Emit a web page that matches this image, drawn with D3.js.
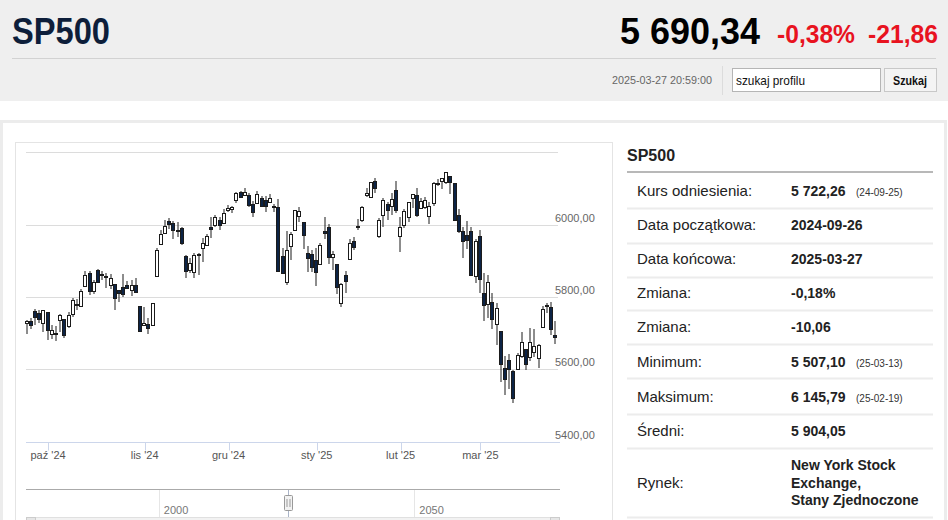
<!DOCTYPE html>
<html>
<head>
<meta charset="utf-8">
<title>SP500</title>
<script src="https://cdn.jsdelivr.net/npm/d3@7/dist/d3.min.js"></script>
<style>
body{ margin:0; background:#fff; }
svg{ display:block; }
.narrow{ font-family:"Liberation Sans",Arial,sans-serif; }
.sans{ font-family:"Liberation Sans",Arial,sans-serif; }
</style>
</head>
<body>
<svg id="page" width="948" height="520"></svg>
<script>
// --- dane ---
var symbol = "SP500";
var lastQuote = "5 690,34";
var changePct = "-0,38%";
var changeAbs = "-21,86";
var quoteTime = "2025-03-27 20:59:00";

var dates = [
  "2024-09-24","2024-09-25","2024-09-26","2024-09-27","2024-09-30",
  "2024-10-01","2024-10-02","2024-10-03","2024-10-04","2024-10-07","2024-10-08","2024-10-09","2024-10-10","2024-10-11",
  "2024-10-14","2024-10-15","2024-10-16","2024-10-17","2024-10-18","2024-10-21","2024-10-22","2024-10-23","2024-10-24",
  "2024-10-25","2024-10-28","2024-10-29","2024-10-30","2024-10-31",
  "2024-11-01","2024-11-04","2024-11-05","2024-11-06","2024-11-07","2024-11-08","2024-11-11","2024-11-12","2024-11-13",
  "2024-11-14","2024-11-15","2024-11-18","2024-11-19","2024-11-20","2024-11-21","2024-11-22","2024-11-25","2024-11-26",
  "2024-11-27","2024-11-29",
  "2024-12-02","2024-12-03","2024-12-04","2024-12-05","2024-12-06","2024-12-09","2024-12-10","2024-12-11","2024-12-12",
  "2024-12-13","2024-12-16","2024-12-17","2024-12-18","2024-12-19","2024-12-20","2024-12-23","2024-12-24","2024-12-26",
  "2024-12-27","2024-12-30","2024-12-31",
  "2025-01-02","2025-01-03","2025-01-06","2025-01-07","2025-01-08","2025-01-10","2025-01-13","2025-01-14","2025-01-15",
  "2025-01-16","2025-01-17","2025-01-21","2025-01-22","2025-01-23","2025-01-24","2025-01-27","2025-01-28","2025-01-29",
  "2025-01-30","2025-01-31",
  "2025-02-03","2025-02-04","2025-02-05","2025-02-06","2025-02-07","2025-02-10","2025-02-11","2025-02-12","2025-02-13",
  "2025-02-14","2025-02-18","2025-02-19","2025-02-20","2025-02-21","2025-02-24","2025-02-25","2025-02-26","2025-02-27",
  "2025-02-28",
  "2025-03-03","2025-03-04","2025-03-05","2025-03-06","2025-03-07","2025-03-10","2025-03-11","2025-03-12","2025-03-13",
  "2025-03-14","2025-03-17","2025-03-18","2025-03-19","2025-03-20","2025-03-21","2025-03-24","2025-03-25","2025-03-26",
  "2025-03-27"
];

var opens = [
  5727.6,5733.6,5762.2,5755.4,5726.5,
  5757.7,5698.2,5698.0,5737.2,5737.8,5719.1,5751.8,5778.4,5775.1,5829.8,5866.7,5816.6,5875.6,5859.4,5857.8,5832.7,5834.5,5817.8,5826.8,5833.9,5819.7,5832.7,5775.3,
  5723.2,5725.2,5722.4,5857.6,5947.2,5976.8,6008.9,6003.6,5985.8,5989.7,5912.8,5874.2,5870.0,5917.9,5934.6,5944.2,5992.3,6000.0,6014.1,6003.9,
  6040.1,6042.0,6069.4,6089.8,6081.4,6083.0,6057.6,6060.2,6074.3,6068.2,6063.8,6052.6,6047.7,5912.7,5842.0,5940.3,5984.7,6025.0,6006.2,5920.7,5919.7,
  5903.3,5891.1,5982.8,5993.3,5910.7,5890.0,5782.3,5859.5,5905.2,5955.6,5995.0,6014.1,6081.4,6076.3,6121.4,5969.0,6026.0,6057.7,6050.8,6096.8,
  5969.7,5998.1,6020.5,6072.2,6083.1,6046.4,6049.3,6025.1,6060.6,6115.5,6121.6,6117.8,6134.5,6114.1,6026.7,5982.7,5970.9,5981.9,5856.7,
  5968.3,5812.0,5781.4,5785.9,5726.0,5705.4,5603.7,5624.8,5594.5,5600.0,5635.6,5654.5,5632.4,5646.9,5630.7,5718.1,5775.9,5771.7,5695.6
];

var highs = [
  5735.3,5741.0,5767.4,5763.8,5765.1,
  5757.7,5722.4,5718.8,5753.4,5739.3,5757.6,5796.8,5795.0,5822.1,5871.4,5870.4,5846.5,5878.5,5872.2,5866.9,5863.0,5834.9,5817.8,5862.8,5842.9,5847.2,5850.9,5775.3,
  5772.5,5741.4,5783.4,5936.1,5983.8,6012.5,6017.3,6009.9,6008.2,5993.9,5915.5,5908.1,5920.7,5920.7,5963.9,5972.9,6020.8,6025.4,6020.2,6044.2,
  6053.6,6052.7,6089.8,6092.1,6100.0,6088.5,6065.4,6092.6,6079.7,6078.6,6085.2,6057.7,6070.7,5935.5,5982.1,5978.3,6040.1,6049.8,6006.2,5940.8,5929.7,
  5935.1,5949.3,6021.0,6000.7,5927.9,5890.0,5837.3,5871.9,5960.6,5964.7,6015.0,6051.5,6100.8,6118.7,6128.2,6017.2,6074.5,6062.8,6086.6,6120.9,
  6022.1,6042.5,6062.9,6084.0,6101.3,6073.4,6076.3,6063.2,6116.9,6127.5,6129.6,6145.8,6134.5,6114.8,6043.7,5992.6,6009.8,5993.7,5959.4,
  5986.1,5865.1,5860.6,5812.1,5783.0,5705.4,5636.3,5642.2,5597.8,5645.3,5703.5,5654.5,5715.3,5711.2,5670.8,5775.1,5783.8,5784.6,5732.3
];

var lows = [
  5698.0,5712.1,5721.0,5727.3,5703.5,
  5681.3,5683.2,5677.7,5702.8,5686.9,5714.6,5745.0,5764.8,5775.1,5829.8,5804.5,5808.3,5840.3,5846.1,5824.8,5821.2,5762.4,5784.9,5799.0,5823.1,5802.8,5811.3,5702.9,
  5723.2,5696.5,5722.1,5857.6,5947.2,5976.8,5986.7,5960.1,5965.9,5942.3,5853.0,5865.9,5853.6,5860.6,5896.0,5944.2,5963.9,5992.3,5984.9,6003.9,
  6035.3,6033.4,6061.1,6073.0,6080.0,6048.6,6021.0,6060.2,6051.3,6035.8,6059.1,6035.2,5867.8,5866.1,5832.3,5902.6,5981.4,6007.4,5933.0,5869.2,5868.9,
  5829.5,5888.7,5960.0,5890.7,5874.8,5809.2,5773.4,5811.4,5905.2,5930.3,5984.9,6006.9,6076.1,6074.7,6088.7,5962.9,5994.6,6013.0,6027.5,6030.9,
  5923.9,5990.9,6007.1,6046.8,6020.0,6044.8,6042.3,6003.0,6051.0,6107.6,6099.5,6111.2,6084.6,6008.6,5977.8,5908.5,5932.7,5858.8,5837.7,
  5810.9,5732.6,5742.4,5711.6,5666.3,5564.0,5528.4,5546.1,5507.1,5598.0,5631.1,5597.8,5622.2,5632.7,5603.1,5718.1,5755.1,5695.0,5670.9
];

var closes = [
  5732.9,5722.3,5745.4,5738.2,5762.5,
  5708.8,5709.5,5699.9,5751.1,5695.9,5751.1,5792.0,5780.1,5815.0,5859.9,5815.3,5842.5,5841.5,5864.7,5854.0,5851.2,5797.4,5809.9,5808.1,5823.5,5832.9,5813.7,5705.5,
  5728.8,5712.7,5782.8,5929.0,5973.1,5995.5,6001.4,5984.0,5985.4,5949.2,5870.6,5893.6,5917.0,5917.1,5948.7,5969.3,5987.4,6021.6,5998.7,6032.4,
  6047.2,6049.9,6086.5,6075.1,6090.3,6052.9,6034.9,6084.2,6051.3,6051.1,6074.1,6050.6,5872.2,5867.1,5930.9,5974.1,6040.0,6037.6,5970.8,5906.9,5881.6,
  5868.6,5942.5,5975.4,5909.0,5918.3,5827.0,5836.2,5842.9,5949.9,5937.3,5996.7,6049.2,6086.4,6118.7,6101.2,6012.3,6067.7,6039.3,6071.2,6040.5,
  5994.6,6037.9,6061.5,6083.6,6026.0,6066.4,6068.5,6052.0,6115.1,6114.6,6129.6,6144.2,6117.5,6013.1,5983.3,5955.3,5956.1,5861.6,5954.5,
  5849.7,5778.2,5842.6,5738.5,5770.2,5614.6,5572.1,5599.3,5521.5,5638.9,5675.1,5614.7,5675.3,5662.9,5667.6,5767.6,5776.7,5712.2,5690.3
];

var yTicks = [5400, 5600, 5800, 6000, 6200];
var monthTickDates = ["2024-10-01","2024-11-01","2024-12-02","2025-01-02","2025-02-03","2025-03-03"];
var monthTickLabels = ["paź '24","lis '24","gru '24","sty '25","lut '25","mar '25"];

var navTicks = [2000, 2050];
var navDomain = [1974, 2078.5];
var navHandle = 2025.3;

var tableLabels = ["Kurs odniesienia:","Data początkowa:","Data końcowa:","Zmiana:","Zmiana:","Minimum:","Maksimum:","Średni:","Rynek:"];
var tableValues = ["5 722,26","2024-09-26","2025-03-27","-0,18%","-10,06","5 507,10","6 145,79","5 904,05",
                   ["New York Stock","Exchange,","Stany Zjednoczone"]];
var tableNotes = ["(24-09-25)","","","","","(25-03-13)","(25-02-19)","",""];

// --- rysowanie ---
var svg = d3.select("#page");

// tekst waski: szerokosc dopasowana przez textLength (brak czcionki Narrow)
function narrowText(xp, yp, size, len, txt, color, bold, anchor){
  var t = svg.append("text").attr("class","narrow").attr("x",xp).attr("y",yp)
     .attr("font-size",size).attr("fill",color)
     .attr("textLength",len).attr("lengthAdjust","spacingAndGlyphs").text(txt);
  if (bold) t.attr("font-weight","bold");
  if (anchor) t.attr("text-anchor",anchor);
  return t;
}

// naglowek
svg.append("rect").attr("x",0).attr("y",0).attr("width",948).attr("height",101).attr("fill","#efefef");
narrowText(12, 44, 36, 98, symbol, "#0d1e3a", true);
narrowText(620, 44, 37, 140, lastQuote, "#000", true);
narrowText(777, 43, 26, 78, changePct, "#e8131f", true);
narrowText(868, 43, 26, 70, changeAbs, "#e8131f", true);
svg.append("line").attr("x1",12).attr("x2",936).attr("y1",58.5).attr("y2",58.5).attr("stroke","#d2d2d2");

narrowText(612, 84, 11.5, 100, quoteTime, "#666", false);
svg.append("line").attr("x1",722.5).attr("x2",722.5).attr("y1",66).attr("y2",95).attr("stroke","#dcdcdc");
svg.append("rect").attr("x",732.5).attr("y",68.5).attr("width",148).attr("height",23)
   .attr("fill","#fff").attr("stroke","#b5b5b5");
narrowText(736, 84.5, 13, 69, "szukaj profilu", "#111", false);
svg.append("rect").attr("x",884.5).attr("y",68.5).attr("width",52).attr("height",23)
   .attr("fill","#f4f4f4").attr("stroke","#c8c8c8");
narrowText(893, 84.5, 13, 34, "Szukaj", "#111", true);

// ramka panelu
svg.append("rect").attr("x",1.5).attr("y",121.5).attr("width",944).attr("height",420)
   .attr("fill","#fff").attr("stroke","#ececec").attr("stroke-width",3);
svg.append("rect").attr("x",15.5).attr("y",142.5).attr("width",597).attr("height",400)
   .attr("fill","#fff").attr("stroke","#e4e4e4");

// wykres
var x = d3.scaleBand().domain(dates).range([25, 558]).paddingInner(0.2).paddingOuter(0.1);
var y = d3.scaleLinear().domain([5400, 6200]).range([441.5, 152.3]);
var pl = d3.formatLocale({decimal:",", thousands:" ", grouping:[3], currency:["",""]});
var fmtAxis = pl.format(".2f");

var grid = svg.append("g");
grid.selectAll("line").data(yTicks).join("line")
    .attr("x1",26).attr("x2",558)
    .attr("y1",function(d){ return Math.round(y(d)) + 0.5; })
    .attr("y2",function(d){ return Math.round(y(d)) + 0.5; })
    .attr("stroke","#dcdcdc");
grid.selectAll("text").data(yTicks.filter(function(d){ return d < 6200; })).join("text")
    .attr("class","sans").attr("x",555).attr("y",function(d){ return Math.round(y(d)) - 3; })
    .attr("font-size",11).attr("fill","#666").text(function(d){ return fmtAxis(d); });

// os x
var xAxisY = Math.round(y(5400)) + 0.5;
svg.append("line").attr("x1",26).attr("x2",560).attr("y1",xAxisY).attr("y2",xAxisY).attr("stroke","#ccd6eb");
var cx = function(d){ return x(d) + x.bandwidth() / 2; };
var mt = svg.append("g");
mt.selectAll("line").data(monthTickDates).join("line")
  .attr("x1",function(d){ return Math.round(cx(d)) + 0.5; })
  .attr("x2",function(d){ return Math.round(cx(d)) + 0.5; })
  .attr("y1",xAxisY).attr("y2",xAxisY + 8).attr("stroke","#ccd6eb");
mt.selectAll("text").data(monthTickDates).join("text")
  .attr("class","sans").attr("x",function(d){ return cx(d); }).attr("y",459)
  .attr("text-anchor","middle").attr("font-size",11).attr("fill","#555")
  .text(function(d, i){ return monthTickLabels[i]; });

// swiece
var candles = dates.map(function(d, i){
  return {date:d, o:opens[i], h:highs[i], l:lows[i], c:closes[i]};
});
var cg = svg.append("g");
var bodyW = 3;
candles.forEach(function(k){
  var left = Math.floor(cx(k.date) - 2) + 0.5;
  var mid = left + 1.5;
  var up = k.c >= k.o;
  var top = Math.round(y(Math.max(k.o, k.c))) + 0.5;
  var bot = Math.round(y(Math.min(k.o, k.c))) + 0.5;
  if (bot - top < 1) bot = top + 1;
  cg.append("line").attr("x1",mid).attr("x2",mid)
    .attr("y1",Math.round(y(k.h))).attr("y2",top).attr("stroke","#1b1b1b");
  cg.append("line").attr("x1",mid).attr("x2",mid)
    .attr("y1",bot).attr("y2",Math.round(y(k.l))).attr("stroke","#1b1b1b");
  cg.append("rect").attr("x",left).attr("y",top).attr("width",bodyW).attr("height",bot - top)
    .attr("fill", up ? "#fff" : "#0c2345").attr("stroke","#1b1b1b");
});

// nawigator
var nx = d3.scaleLinear().domain(navDomain).range([26, 560]);
svg.append("line").attr("x1",26).attr("x2",560).attr("y1",489.5).attr("y2",489.5).attr("stroke","#aaa");
var ng = svg.append("g");
ng.selectAll("line").data(navTicks).join("line")
  .attr("x1",function(d){ return Math.round(nx(d)) + 0.5; })
  .attr("x2",function(d){ return Math.round(nx(d)) + 0.5; })
  .attr("y1",490).attr("y2",520).attr("stroke","#e6e6e6");
ng.selectAll("text").data(navTicks).join("text")
  .attr("class","sans").attr("x",function(d){ return nx(d) + 5; }).attr("y",514)
  .attr("font-size",11).attr("fill","#777").text(function(d){ return d; });
var hx = Math.round(nx(navHandle)) + 0.5;
svg.append("line").attr("x1",hx).attr("x2",hx).attr("y1",490).attr("y2",520).attr("stroke","#aab4c8");
svg.append("rect").attr("x",hx - 4).attr("y",495.5).attr("width",8).attr("height",15).attr("rx",1)
   .attr("fill","#f2f2f2").attr("stroke","#999");
svg.append("line").attr("x1",hx - 1.5).attr("x2",hx - 1.5).attr("y1",499).attr("y2",507).attr("stroke","#999");
svg.append("line").attr("x1",hx + 1.5).attr("x2",hx + 1.5).attr("y1",499).attr("y2",507).attr("stroke","#999");
svg.append("rect").attr("x",26.5).attr("y",517.5).attr("width",533).attr("height",14)
   .attr("fill","#f2f2f2").attr("stroke","#e0e0e0");
svg.append("rect").attr("x",26.5).attr("y",517.5).attr("width",9).attr("height",14)
   .attr("fill","#e6e6e6").attr("stroke","#ccc");
svg.append("rect").attr("x",550.5).attr("y",517.5).attr("width",9).attr("height",14)
   .attr("fill","#e6e6e6").attr("stroke","#ccc");

// tabela
svg.append("text").attr("class","sans").attr("x",627).attr("y",161)
   .attr("font-size",16).attr("font-weight","bold").attr("fill","#222").text(symbol);
svg.append("line").attr("x1",627).attr("x2",933).attr("y1",172).attr("y2",172)
   .attr("stroke","#b8b8b8").attr("stroke-width",2);

var rowBase = [196, 230, 264, 298, 332, 366.5, 401.5, 436, 488];
var rowLines = [208, 243, 277, 310, 344, 378, 414, 448, 517];
var tg = svg.append("g");
tg.selectAll("line").data(rowLines).join("line")
  .attr("x1",627).attr("x2",933).attr("y1",function(d){ return d + 0.5; }).attr("y2",function(d){ return d + 0.5; })
  .attr("stroke","#ececec").attr("stroke-width",2);
tableLabels.forEach(function(lab, i){
  tg.append("text").attr("class","sans").attr("x",637).attr("y",rowBase[i])
    .attr("font-size",15).attr("fill","#222").text(lab);
  var v = tableValues[i];
  if (Array.isArray(v)) {
    v.forEach(function(line, j){
      tg.append("text").attr("class","sans").attr("x",791).attr("y",470 + j * 17.5)
        .attr("font-size",14).attr("font-weight","bold").attr("fill","#222").text(line);
    });
  } else {
    tg.append("text").attr("class","sans").attr("x",791).attr("y",rowBase[i])
      .attr("font-size",14).attr("font-weight","bold").attr("fill","#222").text(v);
  }
  if (tableNotes[i]) {
    tg.append("text").attr("class","sans").attr("x",856).attr("y",rowBase[i])
      .attr("font-size",10).attr("fill","#333").text(tableNotes[i]);
  }
});
</script>
</body>
</html>
